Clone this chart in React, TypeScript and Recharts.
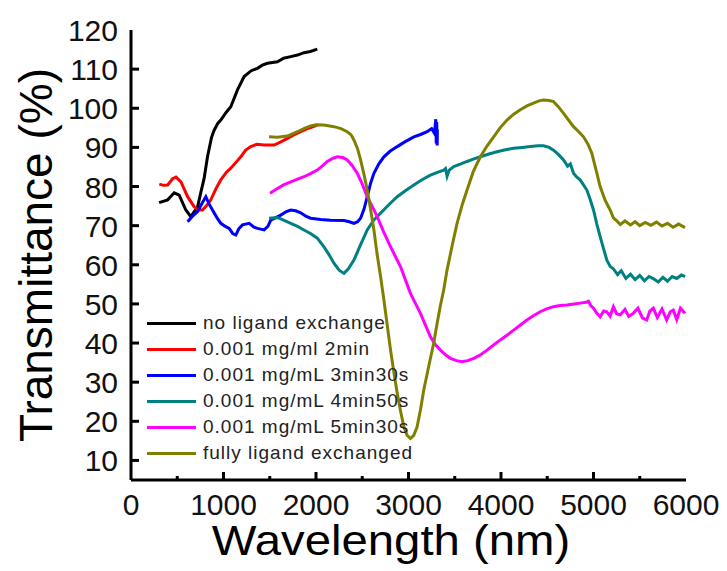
import React from 'react';
import { LineChart, Line, XAxis, YAxis, Label } from 'recharts';

// [wavelength (nm), transmittance (%)]
const noLigand = [
  [304, 75.9], [396, 76.6], [467, 78.4], [521, 77.8], [593, 74.0], [647, 72.3], [720, 74.8],
  [755, 78.5], [790, 82], [827, 87.6], [870, 92.5], [899, 94.4], [940, 96.2], [971, 97],
  [1030, 99], [1079, 100.4], [1151, 104.7], [1223, 108.1], [1300, 109.6], [1367, 110.2],
  [1420, 111.0], [1475, 111.5], [1583, 111.9], [1650, 112.8], [1727, 113.2], [1800, 113.6],
  [1870, 114.2], [1940, 114.5], [2014, 115.1],
];

const twoMin = [
  [306, 80.6], [350, 80.3], [396, 80.4], [450, 82.0], [486, 82.4], [540, 81.2], [612, 77.4],
  [684, 74.8], [730, 74.0], [774, 74], [820, 75.2], [863, 76.6], [920, 79.5], [971, 81.7],
  [1030, 83.6], [1079, 84.7], [1140, 86.3], [1187, 87.6], [1240, 89.3], [1295, 90.2],
  [1360, 90.8], [1439, 90.6], [1547, 90.6], [1620, 91.4], [1691, 92.3], [1760, 93.2],
  [1835, 94.0], [1920, 94.9], [2014, 95.7],
];

const threeMin30 = [
  [612, 71.0], [660, 72.3], [720, 73.6], [770, 75.8], [809, 77.4], [845, 75.5], [881, 74],
  [930, 72.0], [971, 70.6], [1020, 69.8], [1061, 69.3], [1100, 68.0], [1133, 67.6], [1165, 69.2],
  [1205, 70.2], [1277, 70.6], [1330, 69.6], [1367, 69.3], [1439, 68.9], [1480, 69.8],
  [1511, 71.4], [1560, 72.0], [1619, 72.7], [1680, 73.6], [1727, 74.0], [1780, 73.8],
  [1835, 73.3], [1890, 72.4], [1942, 71.9], [2050, 71.6], [2158, 71.4], [2302, 71.3],
  [2360, 71.0], [2410, 70.6], [2450, 71.0], [2482, 71.9], [2520, 74.3], [2554, 77.4],
  [2590, 80.8], [2626, 83.4], [2680, 85.8], [2734, 87.6], [2800, 89.0], [2878, 90.2],
  [2960, 91.4], [3058, 92.7], [3130, 93.3], [3202, 94.0], [3250, 94.8], [3280, 93.6],
  [3295, 97.2], [3300, 91.0], [3305, 96.5], [3310, 90.5], [3312, 94.6],
];

const fourMin50 = [
  [1493, 71.9], [1583, 72.1], [1650, 71.4], [1727, 70.6], [1800, 69.8], [1870, 68.9],
  [1940, 68.0], [2014, 66.8], [2086, 64.6], [2140, 62.6], [2194, 60.4], [2250, 58.6],
  [2302, 57.8], [2350, 59.0], [2410, 61.2], [2480, 65.0], [2554, 68.9], [2620, 71.3],
  [2698, 73.2], [2790, 75.4], [2878, 77.4], [2970, 79.0], [3058, 80.4], [3150, 81.8],
  [3237, 82.9], [3320, 83.7], [3381, 84.2], [3400, 84.6], [3417, 82.6], [3440, 84.2],
  [3489, 85.1], [3560, 85.7], [3633, 86.4], [3700, 87.0], [3777, 87.6], [3870, 88.3],
  [3957, 88.9], [4050, 89.4], [4137, 89.8], [4230, 90.0], [4317, 90.2], [4400, 90.4],
  [4460, 90.4], [4520, 90.0], [4568, 89.3], [4620, 88.2], [4676, 86.8], [4720, 85.2],
  [4750, 85.8], [4784, 83.4], [4820, 82.4], [4856, 81.7], [4890, 80.5], [4928, 79.1],
  [4960, 77.0], [5000, 74], [5036, 70.4], [5072, 67.2], [5110, 64.0], [5144, 61.2],
  [5180, 59.6], [5215, 59.0], [5260, 57.5], [5300, 58.5], [5350, 56.5], [5400, 57.6],
  [5450, 56.2], [5500, 57.3], [5550, 55.9], [5600, 57.0], [5650, 56.4], [5700, 55.6],
  [5750, 56.8], [5800, 55.8], [5850, 57.0], [5900, 56.5], [5950, 57.4], [5990, 57.0],
];

const fiveMin30 = [
  [1503, 78.3], [1583, 79.5], [1650, 80.4], [1727, 81.2], [1800, 81.9], [1870, 82.5],
  [1940, 83.3], [2014, 84.2], [2070, 85.3], [2122, 86.4], [2180, 87.2], [2230, 87.6],
  [2290, 87.4], [2338, 86.8], [2390, 85.4], [2446, 83.4], [2500, 80.6], [2554, 77.4],
  [2610, 74.8], [2662, 72.3], [2730, 68.5], [2806, 64.6], [2914, 59.5], [3021, 52.7],
  [3129, 47.6], [3237, 41.6], [3290, 39.6], [3345, 38.2], [3400, 37.0], [3453, 36.1],
  [3520, 35.5], [3579, 35.2], [3640, 35.5], [3705, 36.1], [3780, 37.0], [3849, 38.2],
  [3920, 39.5], [3993, 40.8], [4065, 42.0], [4137, 43.3], [4210, 44.6], [4281, 45.9],
  [4350, 47.0], [4424, 48.0], [4500, 48.8], [4568, 49.3], [4640, 49.6], [4712, 49.7],
  [4790, 50.0], [4856, 50.2], [4920, 50.4], [4946, 50.7], [4970, 49.6], [5000, 48.9],
  [5036, 47.6], [5072, 46.7], [5110, 48.2], [5144, 48], [5180, 46.9], [5215, 49.3],
  [5250, 47.5], [5288, 47.2], [5340, 48.6], [5380, 46.8], [5431, 47.6], [5480, 48.9],
  [5530, 46.4], [5575, 45.9], [5610, 48.2], [5647, 48.9], [5690, 46.5], [5740, 48.7],
  [5791, 45.9], [5830, 48.0], [5863, 48.4], [5900, 46.0], [5940, 48.9], [5989, 47.6],
];

const fullyExchanged = [
  [1493, 92.7], [1583, 92.6], [1691, 92.9], [1799, 94.0], [1880, 94.9], [1942, 95.5],
  [2000, 95.8], [2086, 95.7], [2194, 95.3], [2270, 94.8], [2338, 94.0], [2380, 93.2],
  [2410, 91.9], [2450, 89.6], [2482, 86.8], [2520, 83.0], [2554, 79.1], [2590, 74.2],
  [2626, 68.9], [2660, 62.8], [2698, 57], [2734, 51.0], [2770, 44.6], [2806, 38.2],
  [2842, 32.5], [2878, 27.2], [2915, 22.5], [2950, 18.6], [2985, 16.4], [3021, 15.6],
  [3057, 16.4], [3093, 18.6], [3130, 23.0], [3165, 28], [3220, 34.2], [3273, 40],
  [3309, 45.0], [3345, 49.6], [3381, 53.6], [3417, 58.7], [3471, 64.8], [3525, 70.6],
  [3580, 75.3], [3633, 79.1], [3700, 83.8], [3777, 87.6], [3850, 90.4], [3921, 92.7],
  [3990, 95.0], [4065, 97], [4137, 98.5], [4209, 99.6], [4280, 100.6], [4352, 101.3],
  [4410, 101.9], [4460, 102.1], [4520, 102.0], [4568, 101.7], [4620, 100.4], [4676, 98.7],
  [4730, 97.0], [4784, 95.3], [4840, 94.0], [4892, 92.7], [4940, 90.8], [4982, 88.5],
  [5030, 84.0], [5072, 80], [5125, 76.5], [5180, 74], [5215, 72.0], [5252, 71.2],
  [5290, 70.3], [5340, 71.2], [5400, 70.2], [5450, 71.0], [5500, 70.0], [5560, 70.8],
  [5620, 70.1], [5680, 70.9], [5740, 69.9], [5800, 70.6], [5860, 69.6], [5920, 70.4],
  [5989, 69.5],
];

const xTicks = [0, 500, 1000, 1500, 2000, 2500, 3000, 3500, 4000, 4500, 5000, 5500, 6000];
const yTicks = [5, 10, 15, 20, 25, 30, 35, 40, 45, 50, 55, 60, 65, 70, 75, 80, 85, 90, 95, 100, 105, 110, 115, 120];

const series = [
  { name: 'no ligand exchange', color: '#000000', points: noLigand },
  { name: '0.001 mg/ml 2min', color: '#ff0000', points: twoMin },
  { name: '0.001 mg/mL 3min30s', color: '#0000ff', points: threeMin30 },
  { name: '0.001 mg/mL 4min50s', color: '#008080', points: fourMin50 },
  { name: '0.001 mg/mL 5min30s', color: '#ff00ff', points: fiveMin30 },
  { name: 'fully ligand exchanged', color: '#808000', points: fullyExchanged },
];

const FONT = '"Liberation Sans", Arial, sans-serif';

const XTick = (props: any) => {
  const { x, y, payload } = props;
  const major = payload.value % 1000 === 0;
  return (
    <g>
      {payload.value > 0 && payload.value < 6000 && (
        <line x1={x} y1={y} x2={x} y2={y - (major ? 8 : 4)} stroke="#000" strokeWidth={3} />
      )}
      {major && (
        <text x={x} y={y + 35} textAnchor="middle" fontSize={30} fontFamily={FONT} fill="#111">
          {payload.value}
        </text>
      )}
    </g>
  );
};

const YTick = (props: any) => {
  const { x, y, payload } = props;
  const major = payload.value % 10 === 0;
  return (
    <g>
      {payload.value > 5 && payload.value < 120 && (
        <line x1={x} y1={y} x2={x + (major ? 8 : 4)} y2={y} stroke="#000" strokeWidth={3} />
      )}
      {major && (
        <text x={x - 13} y={y + 11} textAnchor="end" fontSize={30} fontFamily={FONT} fill="#111">
          {payload.value}
        </text>
      )}
    </g>
  );
};

const LegendBox = () => (
  <div style={{ position: 'absolute', left: 147, top: 310, fontFamily: FONT }}>
    {series.map((s) => (
      <div key={s.name} style={{ display: 'flex', alignItems: 'center', height: 26 }}>
        <div style={{ width: 49, height: 3, background: s.color, marginRight: 7 }} />
        <span style={{ fontSize: 19, letterSpacing: 1, color: '#222', whiteSpace: 'nowrap' }}>{s.name}</span>
      </div>
    ))}
  </div>
);

export default function App() {
  return (
    <div style={{ position: 'absolute', left: 0, top: 0, width: 727, height: 571, background: '#fff' }}>
      <LineChart width={727} height={571} margin={{ top: 30, right: 41, bottom: 31, left: 11 }}>
        <XAxis
          xAxisId="b"
          type="number"
          dataKey="x"
          domain={[0, 6000]}
          ticks={xTicks}
          tick={<XTick />}
          tickSize={0}
          tickMargin={0}
          tickLine={false}
          height={60}
          axisLine={{ stroke: '#000', strokeWidth: 3 }}
          allowDataOverflow
        >
          <Label
            content={() => (
              <text
                transform="translate(391, 555) scale(1.1, 1)"
                textAnchor="middle"
                fontSize={43}
                fontFamily={FONT}
                fill="#000"
              >
                Wavelength (nm)
              </text>
            )}
          />
        </XAxis>
        <XAxis
          xAxisId="t"
          orientation="top"
          type="number"
          domain={[0, 6000]}
          height={0}
          tick={false}
          tickLine={false}
          axisLine={{ stroke: '#000', strokeWidth: 3 }}
        />
        <YAxis
          yAxisId="l"
          type="number"
          domain={[5, 120]}
          ticks={yTicks}
          tick={<YTick />}
          tickSize={0}
          tickMargin={0}
          tickLine={false}
          width={120}
          axisLine={{ stroke: '#000', strokeWidth: 3 }}
          allowDataOverflow
        >
          <Label
            content={() => (
              <text
                transform="translate(52, 255) rotate(-90)"
                textAnchor="middle"
                fontSize={46}
                fontFamily={FONT}
                fill="#000"
              >
                Transmittance (%)
              </text>
            )}
          />
        </YAxis>
        <YAxis
          yAxisId="r"
          orientation="right"
          type="number"
          domain={[5, 120]}
          width={0}
          tick={false}
          tickLine={false}
          axisLine={{ stroke: '#000', strokeWidth: 3 }}
        />
        {series.map((s) => (
          <Line
            key={s.name}
            xAxisId="b"
            yAxisId="l"
            name={s.name}
            data={s.points.map(([x, y]) => ({ x, y }))}
            dataKey="y"
            type="linear"
            stroke={s.color}
            strokeWidth={3}
            dot={false}
            isAnimationActive={false}
          />
        ))}
      </LineChart>
      <LegendBox />
    </div>
  );
}
